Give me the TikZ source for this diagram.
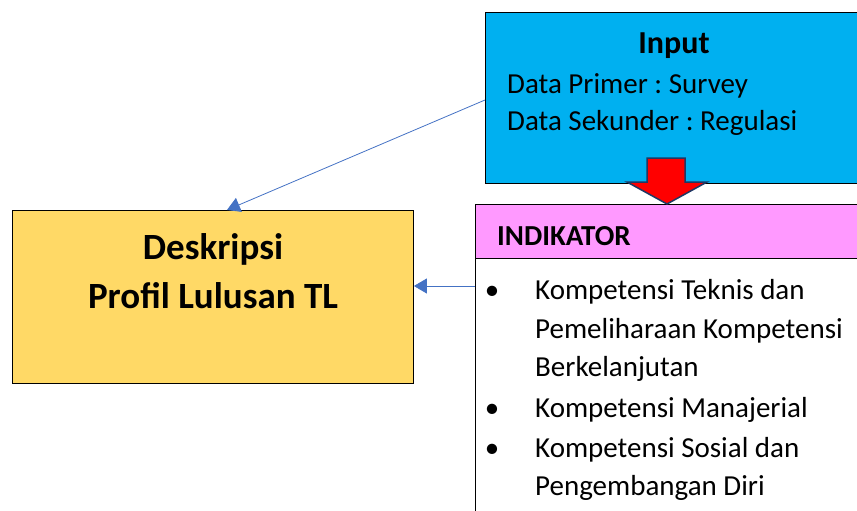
\documentclass[tikz,border=0pt]{standalone}
\usepackage{fontspec}
\setmainfont{Carlito}
\usetikzlibrary{arrows.meta,positioning}
\definecolor{inputblue}{HTML}{00B0F0}
\definecolor{indpink}{HTML}{FF99FF}
\definecolor{descyellow}{HTML}{FFD966}
\definecolor{linkblue}{HTML}{4472C4}
\definecolor{navy}{HTML}{1F3864}
\frenchspacing
\begin{document}
\begin{tikzpicture}[x=1pt,y=-1pt,
	box/.style={draw,line width=0.9pt,inner sep=0,anchor=north west},
	link/.style={draw=linkblue,line width=0.8pt,-{Triangle[length=13pt,width=15pt]}},
	item/.style={anchor=base west,inner sep=0,font=\fontsize{29}{34}\selectfont},
	dot/.style={anchor=base,inner sep=0,font=\fontsize{29}{34}\selectfont}]
\useasboundingbox (0,0) rectangle (857,511);
\clip (0,0) rectangle (857,511);
% boxes
\node[box,fill=inputblue,minimum width=390pt,minimum height=171pt] (input) at (485,12) {};
\node[box,fill=descyellow,minimum width=401pt,minimum height=173pt] (desc) at (12,210) {};
\node[box,fill=white,minimum width=400pt,minimum height=290pt] (indbody) at (475,258) {};
\node[box,fill=indpink,minimum width=400pt,minimum height=54pt] (indhead) at (475,204) {};
% texts
\node[anchor=base,inner sep=0,font=\bfseries\fontsize{32}{36}\selectfont] (intitle) at (674,54) {Input};
\node[item] (prim) at (507,94) {Data Primer : Survey};
\node[item] (sek) at (507,130) {Data Sekunder : Regulasi};
\node[anchor=base,inner sep=0,font=\bfseries\fontsize{37}{42}\selectfont] (dtitle) at (213,259) {Deskripsi};
\node[anchor=base,inner sep=0,font=\bfseries\fontsize{37}{42}\selectfont] (dsub) at (213,308) {Profil Lulusan TL};
\node[item,font=\bfseries\fontsize{29}{34}\selectfont] (indtitle) at (497,245) {INDIKATOR};
\node[dot] (b1) at (492,299) {•};
\node[item] (k1) at (535,299) {Kompetensi Teknis dan};
\node[item] (k2) at (535,338) {Pemeliharaan Kompetensi};
\node[item] (k3) at (535,376) {Berkelanjutan};
\node[dot] (b2) at (492,417) {•};
\node[item] (k4) at (535,417) {Kompetensi Manajerial};
\node[dot] (b3) at (492,457) {•};
\node[item] (k5) at (535,457) {Kompetensi Sosial dan};
\node[item] (k6) at (535,495) {Pengembangan Diri};
% red arrow
\draw[navy,fill=red,line width=1.5pt,line join=miter]
	(647,158) -- (685,158) -- (685,182) -- (707,182) -- (indhead.north -| 667,0)
	-- (627,182) -- (647,182) -- cycle;
% connectors
\coordinate (inleft) at (input.west |- 0,100);
\coordinate (indleft) at (indbody.west |- 0,286);
\draw[link] (inleft) -- ([xshift=14pt]desc.north);
\draw[link] (indleft) -- (desc.east |- indleft);
\end{tikzpicture}
\end{document}
